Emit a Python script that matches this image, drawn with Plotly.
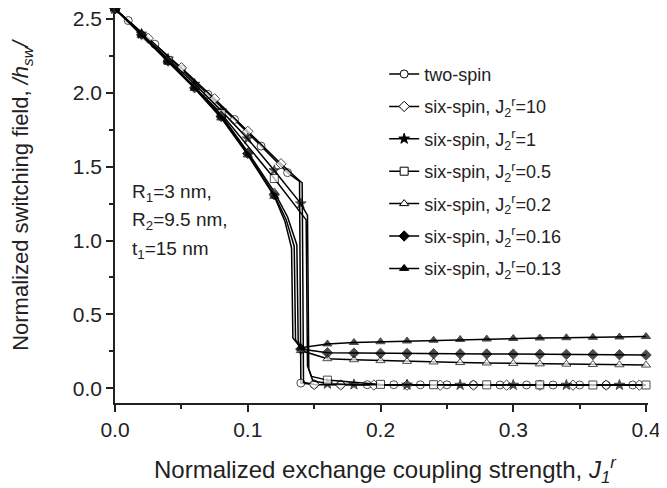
import plotly.graph_objects as go

# x grid used by the J2r = 0.2 / 0.16 / 0.13 runs
grid_x = [0, 0.02, 0.04, 0.06, 0.08, 0.10, 0.12, 0.14, 0.16, 0.18, 0.20, 0.22, 0.24,
          0.26, 0.28, 0.30, 0.32, 0.34, 0.36, 0.38, 0.40]

# two-spin model
two_spin_x = [0, 0.01, 0.03, 0.05, 0.07, 0.09, 0.11, 0.13, 0.14, 0.15, 0.17, 0.19, 0.21,
              0.23, 0.25, 0.27, 0.29, 0.31, 0.33, 0.35, 0.37, 0.39]
two_spin_y = [2.57, 2.49, 2.33, 2.16, 1.99, 1.82, 1.64, 1.46, 0.035, 0.026, 0.025, 0.024,
              0.024, 0.023, 0.023, 0.023, 0.022, 0.022, 0.022, 0.022, 0.022, 0.022]
two_spin_bend_x = [0.139, 0.40]
two_spin_bend_y = [1.40, 0.022]

# six-spin, J2r = 10
j10_x = [0, 0.025, 0.05, 0.075, 0.10, 0.125, 0.15, 0.17, 0.195, 0.22, 0.245, 0.27, 0.295,
         0.32, 0.345, 0.37, 0.395]
j10_y = [2.57, 2.37, 2.17, 1.96, 1.74, 1.52, 0.025, 0.022, 0.022, 0.021, 0.021, 0.021,
         0.021, 0.021, 0.021, 0.021, 0.021]
j10_bend_x = [0.141, 0.142, 0.40]
j10_bend_y = [1.39, 0.04, 0.021]

# six-spin, J2r = 1
j1_x = [0, 0.02, 0.04, 0.06, 0.08, 0.10, 0.12, 0.14, 0.16, 0.18, 0.22, 0.26, 0.30, 0.34, 0.38]
j1_y = [2.57, 2.40, 2.23, 2.06, 1.88, 1.69, 1.475, 1.25, 0.03, 0.025, 0.023, 0.022, 0.022,
        0.022, 0.022]
j1_bend_x = [0.145, 0.146, 0.149, 0.40]
j1_bend_y = [1.17, 0.13, 0.05, 0.022]

# six-spin, J2r = 0.5
j05_x = [0, 0.04, 0.08, 0.12, 0.16, 0.20, 0.24, 0.28, 0.32, 0.36, 0.40]
j05_y = [2.57, 2.22, 1.86, 1.42, 0.055, 0.026, 0.024, 0.023, 0.023, 0.022, 0.022]
j05_bend_x = [0.144, 0.145, 0.148]
j05_bend_y = [1.14, 0.15, 0.08]

# six-spin, J2r = 0.2
j02_y = [2.57, 2.40, 2.22, 2.04, 1.85, 1.60, 1.33, 0.255, 0.20, 0.193, 0.187, 0.182, 0.178,
         0.174, 0.171, 0.168, 0.165, 0.163, 0.161, 0.159, 0.157]
j02_bend_x = [0.130, 0.137, 0.138]
j02_bend_y = [1.16, 0.97, 0.32]

# six-spin, J2r = 0.16
j016_y = [2.57, 2.395, 2.215, 2.035, 1.84, 1.59, 1.31, 0.265, 0.24, 0.238, 0.236, 0.235,
          0.234, 0.233, 0.232, 0.231, 0.23, 0.229, 0.228, 0.227, 0.225]
j016_bend_x = [0.129, 0.135, 0.136]
j016_bend_y = [1.14, 0.96, 0.33]

# six-spin, J2r = 0.13
j013_y = [2.57, 2.39, 2.21, 2.03, 1.83, 1.58, 1.30, 0.275, 0.30, 0.31, 0.315, 0.32, 0.325,
          0.33, 0.333, 0.337, 0.34, 0.342, 0.345, 0.347, 0.35]
j013_bend_x = [0.128, 0.133, 0.134]
j013_bend_y = [1.13, 0.95, 0.34]

J2 = "J<sub>2</sub><sup>r</sup>"
series = [
    ("two-spin", two_spin_x, two_spin_y, two_spin_bend_x, two_spin_bend_y, "circle", "white"),
    ("six-spin, " + J2 + "=10", j10_x, j10_y, j10_bend_x, j10_bend_y, "diamond", "white"),
    ("six-spin, " + J2 + "=1", j1_x, j1_y, j1_bend_x, j1_bend_y, "star", "black"),
    ("six-spin, " + J2 + "=0.5", j05_x, j05_y, j05_bend_x, j05_bend_y, "square", "white"),
    ("six-spin, " + J2 + "=0.2", grid_x, j02_y, j02_bend_x, j02_bend_y, "triangle-up", "white"),
    ("six-spin, " + J2 + "=0.16", grid_x, j016_y, j016_bend_x, j016_bend_y, "diamond", "black"),
    ("six-spin, " + J2 + "=0.13", grid_x, j013_y, j013_bend_x, j013_bend_y, "triangle-up", "black"),
]

FONT = "Arial, 'Liberation Sans', sans-serif"
MSIZE = 8

fig = go.Figure()
for name, xs, ys, bx, by, sym, fill in series:
    # merge marked points with the unmarked bend points, sorted along x
    pts = [(x, y, MSIZE) for x, y in zip(xs, ys)] + [(x, y, 0) for x, y in zip(bx, by)]
    pts.sort(key=lambda p: p[0])
    fig.add_trace(go.Scatter(
        x=[p[0] for p in pts], y=[p[1] for p in pts], mode="lines+markers",
        line=dict(color="black", width=1.5),
        marker=dict(symbol=sym, size=[p[2] for p in pts], color=fill,
                    line=dict(color="black", width=1)),
        showlegend=False, cliponaxis=False))
    # legend entry only
    fig.add_trace(go.Scatter(
        x=[None], y=[None], mode="lines+markers", name=name, legendgroup=name,
        line=dict(color="black", width=1.5),
        marker=dict(symbol=sym, size=MSIZE, color=fill, line=dict(color="black", width=1))))

axis_common = dict(showline=True, linecolor="#222", linewidth=1.5, ticks="outside",
                   ticklen=7, tickwidth=1.5, tickcolor="#222", showgrid=False, zeroline=False,
                   tickfont=dict(size=21, color="#222", family=FONT), ticklabeloverflow="allow",
                   minor=dict(ticks="outside", ticklen=4, tickwidth=1.5, tickcolor="#222"))

fig.update_xaxes(range=[0, 0.4015], tickvals=[0, 0.1, 0.2, 0.3, 0.4],
                 ticktext=["0.0", "0.1", "0.2", "0.3", "0.4"],
                 minor_tickvals=[0.05, 0.15, 0.25, 0.35], **axis_common)
fig.update_yaxes(range=[-0.1, 2.575], tickvals=[0, 0.5, 1.0, 1.5, 2.0, 2.5],
                 ticktext=["0.0", "0.5", "1.0", "1.5", "2.0", "2.5"],
                 minor_tickvals=[0.25, 0.75, 1.25, 1.75, 2.25], **axis_common)

# parameter block
for txt, yv in [("R<sub>1</sub>=3 nm,", 1.322), ("R<sub>2</sub>=9.5 nm,", 1.133),
                ("t<sub>1</sub>=15 nm", 0.936)]:
    fig.add_annotation(x=0.0113, y=yv, xref="x", yref="y", text=txt, showarrow=False,
                       xanchor="left", yanchor="middle", font=dict(size=19, color="#222"))

# axis titles
fig.add_annotation(x=0.5066, y=-0.1697, xref="paper", yref="paper", showarrow=False,
                   text="Normalized exchange coupling strength, <i>J</i><sub><i>1</i></sub><sup><i>r</i></sup>",
                   xanchor="center", yanchor="middle", font=dict(size=24, color="#222"))
fig.add_annotation(x=-0.1745, y=0.527, xref="paper", yref="paper", showarrow=False,
                   text="Normalized switching field, <i>/h</i><sub><i>sw</i></sub><i>/</i>",
                   textangle=-90, xanchor="center", yanchor="middle",
                   font=dict(size=22, color="#222"))

# the page body adds an 8px offset, so the figure is 8px smaller than the window
fig.update_layout(
    width=659, height=480, margin=dict(l=107, r=19, t=0, b=85),
    paper_bgcolor="white", plot_bgcolor="white",
    font=dict(family=FONT, size=18, color="#222"),
    legend=dict(x=0.505, y=0.879, xanchor="left", yanchor="top", bgcolor="rgba(0,0,0,0)",
                font=dict(size=18), tracegroupgap=6),
)

fig.write_html("out.html")
